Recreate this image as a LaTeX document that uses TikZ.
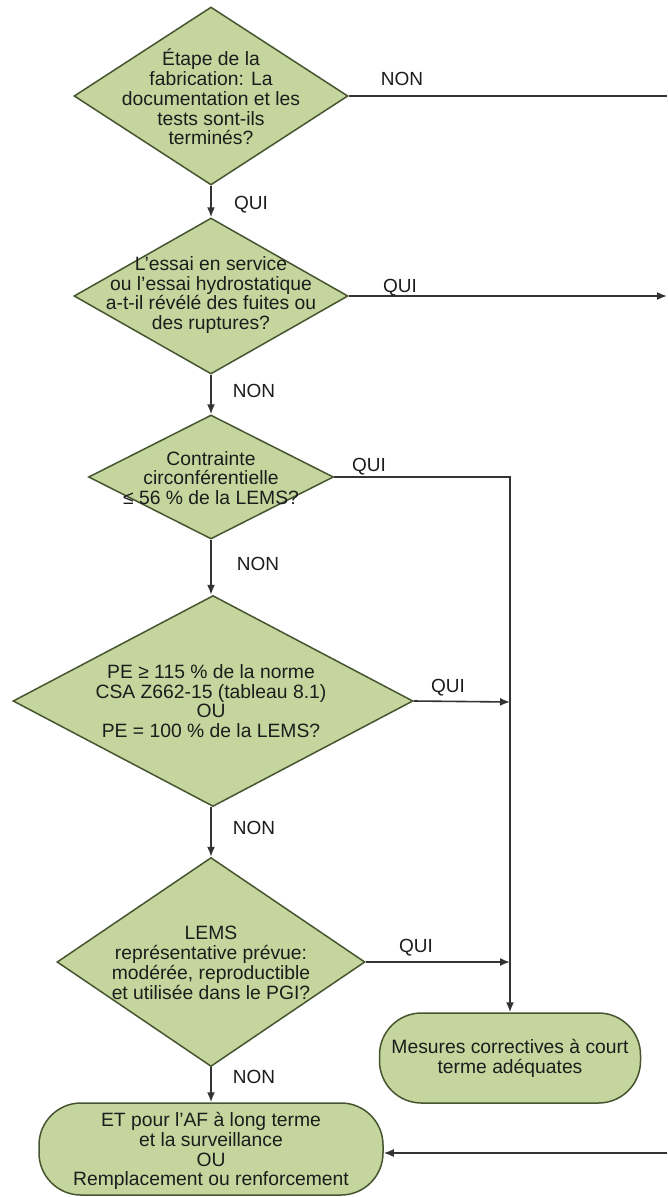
\documentclass[tikz,border=0pt]{standalone}
\usepackage{fontspec}
\setmainfont{Liberation Sans}
\usetikzlibrary{shapes.geometric,arrows.meta}
\definecolor{boxfill}{HTML}{C4D69E}
\definecolor{boxline}{HTML}{46552F}
\definecolor{conn}{HTML}{333333}
\definecolor{txt}{HTML}{1C1C1C}
\tikzset{
  dia/.style={diamond, draw=boxline, fill=boxfill, line width=1.5pt, inner sep=0pt},
  term/.style={rectangle, draw=boxline, fill=boxfill, line width=1.5pt, rounded corners=42pt, inner sep=0pt},
  boxtext/.style={align=center, text=txt, font=\fontsize{19.3}{19.8}\selectfont, inner sep=0pt},
  lbl/.style={text=txt, font=\fontsize{19}{19.8}\selectfont, inner sep=0pt},
  conline/.style={draw=conn, line width=1.6pt},
  arr/.style={conline, -{Latex[length=10pt,width=8pt]}}
}
\begin{document}
\begin{tikzpicture}[x=1pt,y=-1pt]
\useasboundingbox (0,0) rectangle (667,1197);
% shapes
\node[dia, minimum width=274pt, minimum height=178pt] (d1) at (211,96) {};
\node[dia, minimum width=274pt, minimum height=156pt] (d2) at (211,296) {};
\node[dia, minimum width=245pt, minimum height=124pt] (d3) at (211,477) {};
\node[dia, minimum width=400pt, minimum height=211pt] (d4) at (213,701) {};
\node[dia, minimum width=308pt, minimum height=209pt] (d5) at (211,962) {};
\node[term, minimum width=261pt, minimum height=90pt] (m) at (510,1058) {};
\node[term, minimum width=344pt, minimum height=92pt] (et) at (211,1149) {};
% texts
\node[boxtext] (t1) at (211,97) {Étape de la\\fabrication: La\\documentation et les\\tests sont-ils\\terminés?};
\node[boxtext] (t2) at (211,295) {L’essai en service\\ou l’essai hydrostatique\\a-t-il révélé des fuites ou\\des ruptures?};
\node[boxtext] (t3) at (211,478) {Contrainte\\circonférentielle\\≤ 56 \% de la LEMS?};
\node[boxtext] (t4) at (211,701) {PE ≥ 115 \% de la norme\\CSA Z662-15 (tableau 8.1)\\OU\\PE = 100 \% de la LEMS?};
\node[boxtext] (t5) at (211,963) {LEMS\\représentative prévue:\\modérée, reproductible\\et utilisée dans le PGI?};
\node[boxtext] (tm) at (510,1058) {Mesures correctives à court\\terme adéquates};
\node[boxtext] (tet) at (211,1151) {ET pour l'AF à long terme\\et la surveillance\\OU\\Remplacement ou renforcement};
% free ends
\coordinate (r1) at (667,96);
\coordinate (r2) at (667,296);
\coordinate (r3) at (667,1153);
\coordinate (j3) at (510,477);
\coordinate (j4) at (510,702);
\coordinate (j5) at (510,962);
% connectors
\draw[conline] (d1.east) -- (r1);
\draw[arr] (d1.south) -- (d2.north);
\draw[arr] (d2.east) -- (r2);
\draw[arr] (d2.south) -- (d3.north);
\draw[arr] (d3.south) -- (d4.north -| d3.south);
\draw[arr] (d3.east) -- (j3) -- (m.north);
\draw[arr] (d4.east) -- (j4);
\draw[arr] (d4.south -| d3.south) -- (d5.north);
\draw[arr] (d5.east) -- (j5);
\draw[arr] (d5.south) -- (et.north);
\draw[arr] (r3) -- (et.east |- r3);
% labels
\node[lbl] (l1) at (402,79) {NON};
\node[lbl] (l2) at (251,205) {QUI};
\node[lbl] (l3) at (400,288) {QUI};
\node[lbl] (l4) at (254,391) {NON};
\node[lbl] (l5) at (369,467) {QUI};
\node[lbl] (l6) at (258,564) {NON};
\node[lbl] (l7) at (448,688) {QUI};
\node[lbl] (l8) at (254,828) {NON};
\node[lbl] (l9) at (416,948) {QUI};
\node[lbl] (l10) at (254,1077) {NON};
\end{tikzpicture}
\end{document}
